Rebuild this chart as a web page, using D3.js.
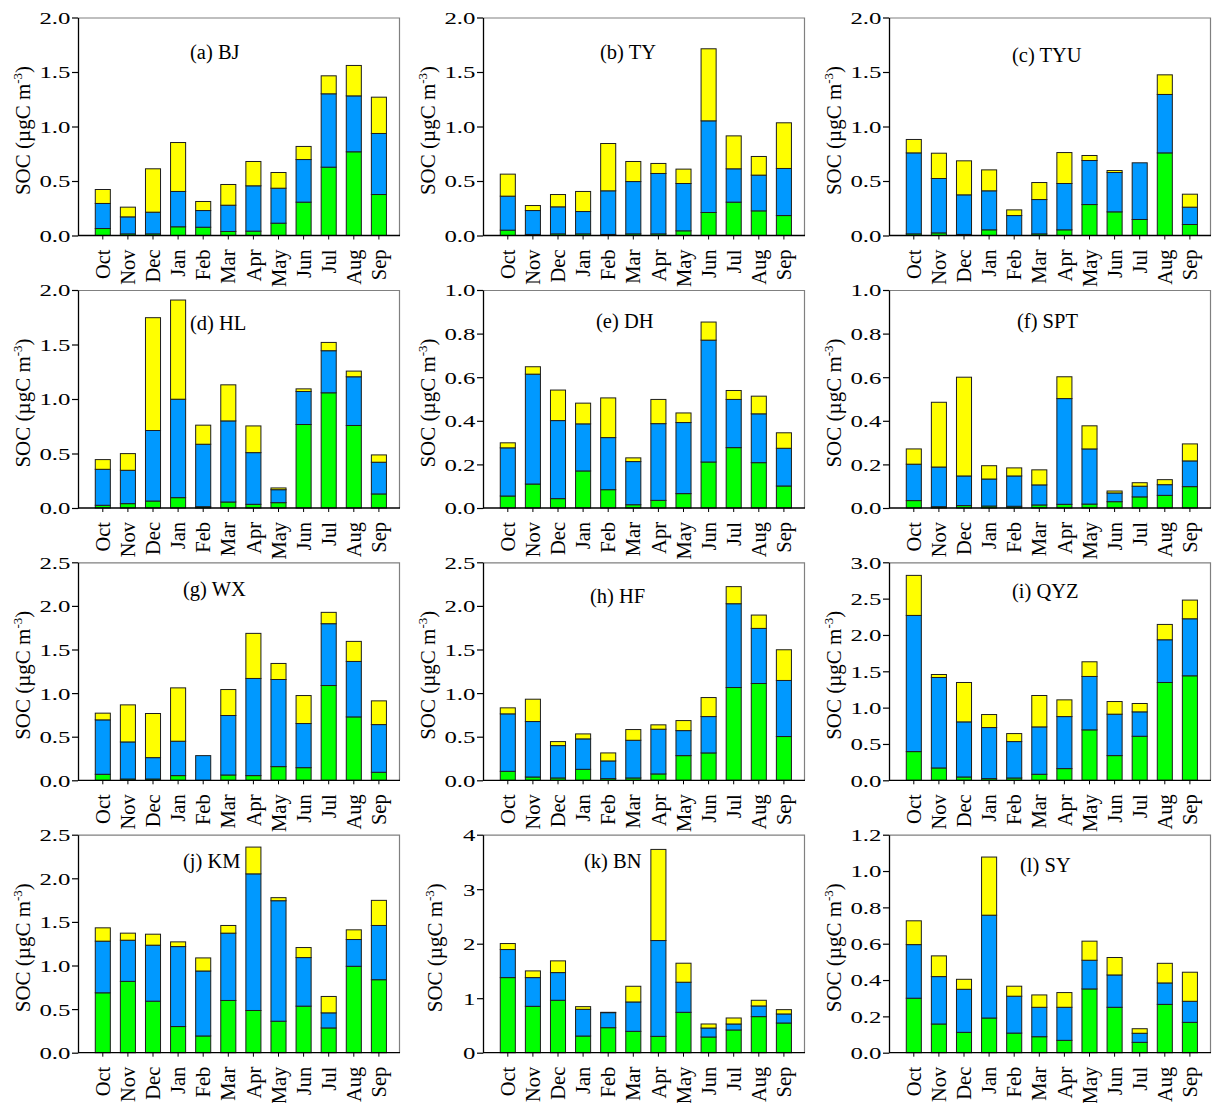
<!DOCTYPE html>
<html>
<head>
<meta charset="utf-8">
<script src="https://cdn.jsdelivr.net/npm/d3@7"></script>
<style>
  body { margin: 0; background: #ffffff; }
  text { font-family: "Liberation Serif", "Times New Roman", serif; fill: #000; }
</style>
</head>
<body>
<svg id="chart" width="1214" height="1103"></svg>
<script>
// Months of the sampling year (Oct to Sep)
const months = ["Oct", "Nov", "Dec", "Jan", "Feb", "Mar", "Apr", "May", "Jun", "Jul", "Aug", "Sep"];

// Site panels
const sites = ["(a) BJ", "(b) TY", "(c) TYU", "(d) HL", "(e) DH", "(f) SPT",
               "(g) WX", "(h) HF", "(i) QYZ", "(j) KM", "(k) BN", "(l) SY"];

// Y axis extent and tick step of each panel (µgC m-3)
const yMax  = [2.0, 2.0, 2.0, 2.0, 1.0, 1.0, 2.5, 2.5, 3.0, 2.5, 4, 1.2];
const yStep = [0.5, 0.5, 0.5, 0.5, 0.2, 0.2, 0.5, 0.5, 0.5, 0.5, 1, 0.2];
const yDigits = [1, 1, 1, 1, 1, 1, 1, 1, 1, 1, 0, 1];

// SOC components per site: green (bottom), blue (middle), yellow (top)
const bjGreen  = [0.064, 0.015, 0.015, 0.080, 0.076, 0.037, 0.040, 0.113, 0.306, 0.627, 0.768, 0.376];
const bjBlue   = [0.230, 0.156, 0.199, 0.324, 0.153, 0.241, 0.416, 0.321, 0.391, 0.673, 0.513, 0.560];
const bjYellow = [0.128, 0.089, 0.398, 0.449, 0.083, 0.190, 0.223, 0.144, 0.120, 0.165, 0.279, 0.333];

const tyGreen  = [0.049, 0.010, 0.015, 0.015, 0.010, 0.015, 0.015, 0.043, 0.211, 0.306, 0.226, 0.183];
const tyBlue   = [0.312, 0.219, 0.248, 0.205, 0.400, 0.480, 0.554, 0.434, 0.841, 0.306, 0.328, 0.432];
const tyYellow = [0.202, 0.046, 0.113, 0.184, 0.434, 0.184, 0.092, 0.132, 0.661, 0.302, 0.171, 0.419];

const tyuGreen  = [0.015, 0.024, 0.010, 0.052, 0.000, 0.015, 0.052, 0.284, 0.217, 0.147, 0.758, 0.101];
const tyuBlue   = [0.743, 0.499, 0.363, 0.358, 0.183, 0.315, 0.425, 0.404, 0.361, 0.520, 0.536, 0.159];
const tyuYellow = [0.123, 0.232, 0.312, 0.192, 0.052, 0.156, 0.284, 0.046, 0.018, 0.000, 0.180, 0.119];

const hlGreen  = [0.025, 0.040, 0.064, 0.095, 0.012, 0.055, 0.034, 0.049, 0.766, 1.057, 0.757, 0.129];
const hlBlue   = [0.330, 0.306, 0.647, 0.903, 0.573, 0.744, 0.474, 0.119, 0.303, 0.386, 0.447, 0.291];
const hlYellow = [0.089, 0.153, 1.035, 0.910, 0.175, 0.331, 0.245, 0.016, 0.024, 0.076, 0.052, 0.067];

const dhGreen  = [0.055, 0.110, 0.043, 0.170, 0.084, 0.015, 0.035, 0.066, 0.211, 0.277, 0.208, 0.101];
const dhBlue   = [0.221, 0.504, 0.358, 0.216, 0.239, 0.198, 0.352, 0.326, 0.559, 0.221, 0.224, 0.173];
const dhYellow = [0.023, 0.034, 0.140, 0.095, 0.182, 0.017, 0.111, 0.044, 0.083, 0.041, 0.081, 0.071];

const sptGreen  = [0.034, 0.006, 0.011, 0.009, 0.008, 0.014, 0.017, 0.018, 0.029, 0.051, 0.058, 0.098];
const sptBlue   = [0.167, 0.182, 0.136, 0.124, 0.139, 0.092, 0.485, 0.253, 0.040, 0.049, 0.049, 0.118];
const sptYellow = [0.070, 0.297, 0.453, 0.061, 0.037, 0.069, 0.100, 0.106, 0.009, 0.016, 0.023, 0.078];

const wxGreen  = [0.069, 0.015, 0.015, 0.054, 0.000, 0.061, 0.054, 0.157, 0.145, 1.087, 0.727, 0.092];
const wxBlue   = [0.624, 0.425, 0.245, 0.394, 0.283, 0.682, 1.114, 0.999, 0.506, 0.709, 0.636, 0.547];
const wxYellow = [0.077, 0.425, 0.506, 0.612, 0.000, 0.298, 0.517, 0.184, 0.321, 0.130, 0.230, 0.272];

const hfGreen  = [0.103, 0.038, 0.027, 0.126, 0.019, 0.027, 0.073, 0.283, 0.314, 1.064, 1.110, 0.502];
const hfBlue   = [0.659, 0.636, 0.371, 0.349, 0.203, 0.432, 0.513, 0.287, 0.417, 0.961, 0.632, 0.643];
const hfYellow = [0.069, 0.256, 0.046, 0.057, 0.092, 0.123, 0.050, 0.115, 0.218, 0.196, 0.153, 0.352];

const qyzGreen  = [0.395, 0.170, 0.046, 0.023, 0.032, 0.083, 0.161, 0.694, 0.340, 0.606, 1.346, 1.438];
const qyzBlue   = [1.874, 1.245, 0.758, 0.703, 0.501, 0.652, 0.716, 0.735, 0.570, 0.336, 0.588, 0.785];
const qyzYellow = [0.551, 0.041, 0.542, 0.179, 0.110, 0.432, 0.230, 0.202, 0.174, 0.115, 0.211, 0.257];

const kmGreen  = [0.687, 0.818, 0.591, 0.300, 0.192, 0.599, 0.484, 0.361, 0.534, 0.284, 0.991, 0.837];
const kmBlue   = [0.592, 0.472, 0.642, 0.917, 0.745, 0.772, 1.567, 1.382, 0.557, 0.173, 0.307, 0.622];
const kmYellow = [0.153, 0.081, 0.126, 0.054, 0.150, 0.088, 0.307, 0.035, 0.115, 0.188, 0.111, 0.288];

const bnGreen  = [1.378, 0.851, 0.962, 0.306, 0.459, 0.392, 0.300, 0.741, 0.288, 0.417, 0.662, 0.545];
const bnBlue   = [0.515, 0.527, 0.508, 0.490, 0.276, 0.539, 1.758, 0.552, 0.165, 0.110, 0.196, 0.166];
const bnYellow = [0.110, 0.123, 0.215, 0.049, 0.006, 0.288, 1.672, 0.349, 0.074, 0.110, 0.104, 0.079];

const syGreen  = [0.300, 0.158, 0.112, 0.191, 0.108, 0.088, 0.068, 0.351, 0.250, 0.057, 0.266, 0.167];
const syBlue   = [0.295, 0.261, 0.237, 0.566, 0.203, 0.162, 0.182, 0.158, 0.178, 0.050, 0.118, 0.116];
const syYellow = [0.131, 0.114, 0.055, 0.320, 0.055, 0.068, 0.081, 0.105, 0.096, 0.025, 0.108, 0.160];

const greenSeries  = [bjGreen, tyGreen, tyuGreen, hlGreen, dhGreen, sptGreen, wxGreen, hfGreen, qyzGreen, kmGreen, bnGreen, syGreen];
const blueSeries   = [bjBlue, tyBlue, tyuBlue, hlBlue, dhBlue, sptBlue, wxBlue, hfBlue, qyzBlue, kmBlue, bnBlue, syBlue];
const yellowSeries = [bjYellow, tyYellow, tyuYellow, hlYellow, dhYellow, sptYellow, wxYellow, hfYellow, qyzYellow, kmYellow, bnYellow, syYellow];

// ---- layout ----
const W = 322, H = 218;
const panelLeft = [78, 483, 889];
const panelTop = [17.5, 290, 562.3, 834.7];
// panel label anchor (start x, baseline y) inside each plot
const labelPos = [[112, 41], [117, 41], [123, 44], [112, 40], [113, 38], [128, 38],
                  [105, 34], [107, 41], [123, 36], [105, 33], [101, 33], [131, 37]];
const keys = ["green", "blue", "yellow"];
const fills = { green: "#00ff00", blue: "#0099ff", yellow: "#ffff00" };

const svg = d3.select("#chart");

sites.forEach((site, i) => {
  const col = i % 3, row = Math.floor(i / 3);
  const g = svg.append("g").attr("transform", `translate(${panelLeft[col]},${panelTop[row]})`);

  const x = d3.scaleBand().domain(months).range([12.25, 313.45]).paddingInner(0.4).paddingOuter(0.2);
  const y = d3.scaleLinear().domain([0, yMax[i]]).range([H, 0]);

  const table = months.map((m, j) => ({
    month: m, green: greenSeries[i][j], blue: blueSeries[i][j], yellow: yellowSeries[i][j]
  }));
  const stacked = d3.stack().keys(keys)(table);

  // top and right frame
  g.append("path")
    .attr("d", `M0,0.5H${W - 0.5}V${H}`)
    .attr("fill", "none").attr("stroke", "#808080").attr("stroke-width", 1.2);

  // stacked bars
  g.selectAll("g.layer").data(stacked).join("g")
    .attr("class", "layer")
    .attr("fill", d => fills[d.key])
    .selectAll("rect").data(d => d.filter(s => s[1] - s[0] > 0)).join("rect")
    .attr("x", d => x(d.data.month))
    .attr("width", x.bandwidth())
    .attr("y", d => y(d[1]))
    .attr("height", d => y(d[0]) - y(d[1]))
    .attr("stroke", "#1e1e1e").attr("stroke-width", 1);

  // y axis
  const ticks = d3.range(0, yMax[i] + yStep[i] / 2, yStep[i]);
  const yAxis = d3.axisLeft(y).tickValues(ticks).tickSize(6).tickSizeOuter(0)
    .tickFormat(d3.format(`.${yDigits[i]}f`));
  const ya = g.append("g").call(yAxis);
  ya.select(".domain").attr("stroke", "#000").attr("stroke-width", 1.3);
  ya.selectAll(".tick line").attr("stroke", "#000").attr("stroke-width", 1.2);
  ya.selectAll(".tick text")
    .attr("x", 0).attr("dy", "0.34em")
    .attr("transform", "translate(-7.5,0) scale(1.42,1)")
    .style("font-size", "17.5px");

  // x axis
  const xAxis = d3.axisBottom(x).tickSize(4).tickSizeOuter(0);
  const xa = g.append("g").attr("transform", `translate(0,${H})`).call(xAxis);
  xa.select(".domain").remove();
  xa.append("line").attr("x1", 0).attr("x2", W).attr("stroke", "#000").attr("stroke-width", 1.3);
  xa.selectAll(".tick line").attr("stroke", "#000");
  xa.selectAll(".tick text")
    .attr("transform", "rotate(-90)")
    .attr("text-anchor", "end")
    .attr("x", -14).attr("y", 0).attr("dy", "0.35em")
    .style("font-size", "20.5px");

  // y axis title
  const tx = i === 10 ? -41 : -48;
  const title = g.append("text")
    .attr("transform", `translate(${tx},${H / 2 + 4}) rotate(-90)`)
    .attr("text-anchor", "middle")
    .style("font-size", "21px");
  title.append("tspan").text("SOC (µgC m");
  title.append("tspan").attr("dy", -8).style("font-size", "13px").text("-3");
  title.append("tspan").attr("dy", 8).text(")");

  // panel label
  g.append("text")
    .attr("x", labelPos[i][0]).attr("y", labelPos[i][1])
    .style("font-size", "20.5px")
    .text(site);
});
</script>
</body>
</html>
